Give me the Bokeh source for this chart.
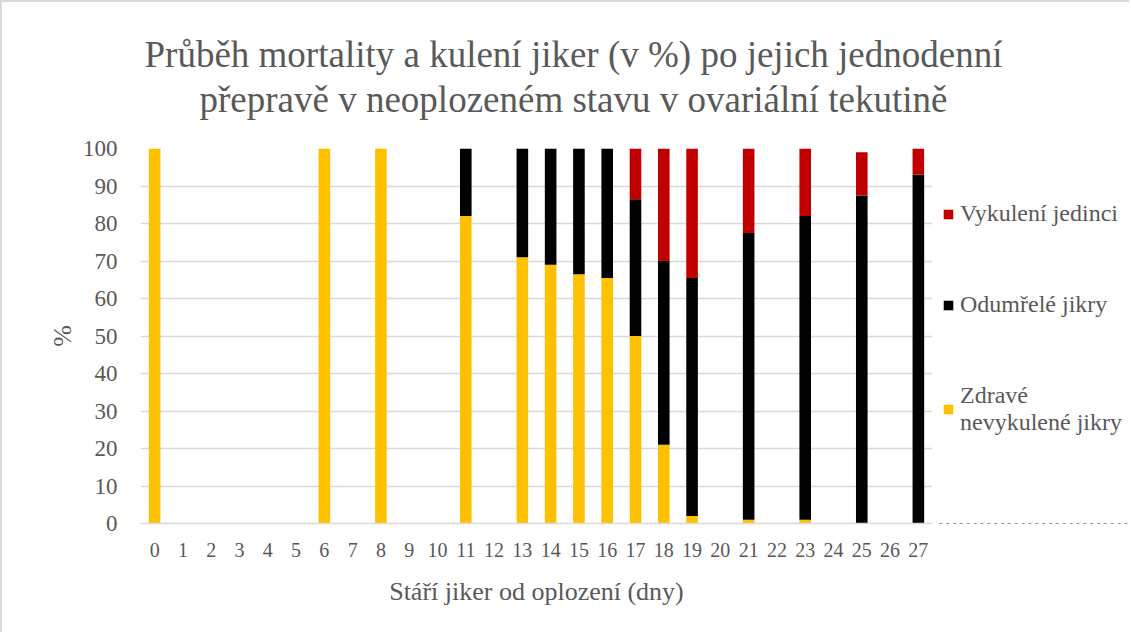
from bokeh.plotting import figure
from bokeh.layouts import column, row
from bokeh.models import (Legend, LegendItem, Label, FactorRange, Range1d,
                          FixedTicker, ColumnDataSource)
from bokeh.embed import file_html
from bokeh.resources import INLINE

# ---- data ----
days = [str(d) for d in range(28)]
healthy = [100, 0, 0, 0, 0, 0, 100, 0, 100, 0, 0, 82, 0, 71, 69, 66.5, 65.5,
           50, 21, 2, 0, 1, 0, 1, 0, 0, 0, 0]
dead = [0, 0, 0, 0, 0, 0, 0, 0, 0, 0, 0, 18, 0, 29, 31, 33.5, 34.5,
        36.5, 49, 63.5, 0, 76.5, 0, 81, 0, 87.5, 0, 93]
hatched = [0, 0, 0, 0, 0, 0, 0, 0, 0, 0, 0, 0, 0, 0, 0, 0, 0,
           13.5, 30, 34.5, 0, 22.5, 0, 18, 0, 11.5, 0, 7]
series_names = ["Zdravé\nnevykulené jikry", "Odumřelé jikry", "Vykulení jedinci"]
colors = ["#FFC000", "#000000", "#C00000"]
y_ticks = list(range(0, 101, 10))
title_lines = ["Průběh mortality a kulení jiker (v %) po jejich jednodenní",
               "přepravě v neoplozeném stavu v ovariální tekutině"]

FONT = "'Liberation Serif', 'Times New Roman', serif"
TXT = "#595959"
GRID = "#D9D9D9"
STACK = ["healthy", "dead", "hatched"]

source = ColumnDataSource(dict(day=days, healthy=healthy, dead=dead, hatched=hatched))

# ---- title strip ----
pt = figure(width=1127, height=120, output_backend="svg", toolbar_location=None,
            x_axis_location=None, y_axis_location=None, min_border=0,
            x_range=Range1d(0, 1), y_range=Range1d(0, 1))
pt.title = None
pt.outline_line_color = None
pt.grid.visible = False
for i, line in enumerate(title_lines):
    pt.add_layout(Label(x=571, y=68 - 45 * i, x_units="screen", y_units="screen",
                        text=line, text_align="center", text_baseline="middle",
                        text_font=FONT, text_font_size="37px", text_color=TXT))

# ---- main chart ----
p = figure(width=935, height=510, output_backend="svg", toolbar_location=None,
           x_range=FactorRange(*days), y_range=Range1d(0, 100),
           min_border_left=138, min_border_top=26, min_border_right=5,
           min_border_bottom=109)
p.title = None

rs = p.vbar_stack(STACK, x="day", width=0.41,
                  color=colors, line_color=None, source=source)

p.outline_line_color = None
p.xgrid.grid_line_color = None
p.ygrid.grid_line_color = GRID
p.ygrid.grid_line_width = 1.5

p.yaxis.ticker = FixedTicker(ticks=y_ticks)
p.yaxis.axis_line_color = None
p.yaxis.major_tick_line_color = None
p.yaxis.minor_tick_line_color = None
p.yaxis.major_label_standoff = 17
p.yaxis.axis_label = "%"
p.yaxis.axis_label_standoff = 3

p.xaxis.axis_line_color = GRID
p.xaxis.axis_line_width = 1.5
p.xaxis.major_tick_line_color = None
p.xaxis.minor_tick_line_color = None
p.xaxis.major_label_standoff = 13
p.xaxis.axis_label = "Stáří jiker od oplození (dny)"
p.xaxis.axis_label_standoff = 17

for ax, tick_size in ((p.xaxis[0], "20px"), (p.yaxis[0], "23px")):
    ax.major_label_text_font = FONT
    ax.major_label_text_font_size = tick_size
    ax.major_label_text_color = TXT
    ax.axis_label_text_font = FONT
    ax.axis_label_text_font_size = "26px"
    ax.axis_label_text_font_style = "normal"
    ax.axis_label_text_color = TXT

# ---- legend strip (same stacked series, kept out of view, only feed the legend) ----
pl = figure(width=192, height=510, output_backend="svg", toolbar_location=None,
            x_axis_location=None, y_axis_location=None, min_border=0,
            x_range=FactorRange(*days), y_range=Range1d(200, 300))
pl.title = None
pl.outline_line_color = None
pl.grid.visible = False
swatches = pl.vbar_stack(STACK, x="day", width=0.41,
                         color=colors, line_color=None, source=source)

items = [LegendItem(label=series_names[2], renderers=[swatches[2]]),
         LegendItem(label=series_names[1], renderers=[swatches[1]]),
         LegendItem(label=series_names[0], renderers=[swatches[0]])]
legend = Legend(items=items, location=(5, 87), ncols=1,
                glyph_width=12, glyph_height=12,
                label_standoff=6, spacing=64, padding=0, margin=0,
                border_line_color=None, background_fill_alpha=0,
                label_text_font=FONT, label_text_font_size="24px",
                label_text_color=TXT)
pl.add_layout(legend, "center")

layout = column(pt, row(p, pl),
                styles={"border-left": "2px solid #D9D9D9", "border-top": "2px solid #D9D9D9"})

open("out.html", "w").write(file_html(layout, INLINE))
